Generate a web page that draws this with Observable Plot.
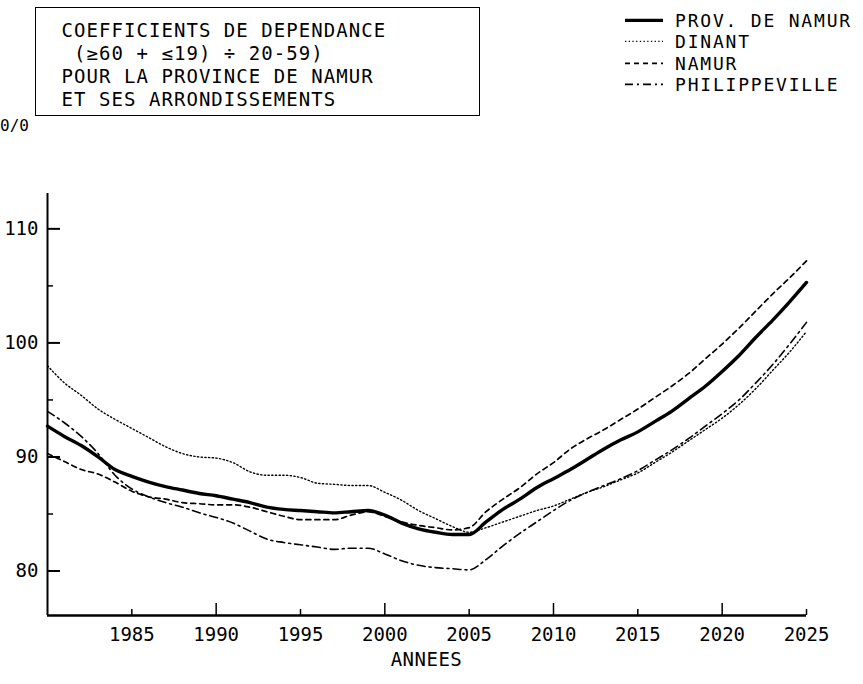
<!DOCTYPE html>
<html>
<head>
<meta charset="utf-8">
<script src="https://cdn.jsdelivr.net/npm/d3@7"></script>
<script src="https://cdn.jsdelivr.net/npm/@observablehq/plot@0.6"></script>
<style>
  body { margin: 0; background: #fff; }
  #wrap { position: relative; width: 863px; height: 684px; font-family: "DejaVu Sans Mono", monospace; color: #000; overflow: hidden; }
  #title { position: absolute; left: 35px; top: 7px; width: 445px; height: 109px; box-sizing: border-box; border: 1.5px solid #000;
           padding: 10.5px 0 0 25.5px; font-size: 19px; letter-spacing: 1.05px; line-height: 23px; white-space: pre; }
  #unit { position: absolute; left: 0px; top: 117px; font-size: 16px; line-height: 18px; }
  #legend { position: absolute; left: 625px; top: 9.6px; font-size: 18px; letter-spacing: 1.8px; line-height: 21.5px; }
  #legend .row { display: flex; align-items: flex-start; height: 21.5px; white-space: pre; }
  #legend svg { width: 38px; height: 21.5px; margin-right: 12px; flex: none; }
  #xlabel { position: absolute; left: 0; width: 853px; text-align: center; top: 648px; font-size: 19px; line-height: 22px; letter-spacing: 0.5px; }
  #chart { position: absolute; left: 0; top: 0; }
</style>
</head>
<body>
<div id="wrap">
  <div id="chart"></div>
  <div id="title"></div>
  <div id="unit">0/0</div>
  <div id="legend"></div>
  <div id="xlabel">ANNEES</div>
</div>
<script>
// ---- data ----
const titleLines = ["COEFFICIENTS DE DEPENDANCE", " (≥60 + ≤19) ÷ 20-59)", "POUR LA PROVINCE DE NAMUR", "ET SES ARRONDISSEMENTS"];
const seriesNames = ["PROV. DE NAMUR", "DINANT", "NAMUR", "PHILIPPEVILLE"];

const years = [1980,1981,1982,1983,1984,1985,1986,1987,1988,1989,1990,1991,1992,1993,1994,1995,1996,1997,1998,1999,
               2000,2001,2002,2003,2004,2005,2006,2007,2008,2009,2010,2011,2012,2013,2014,2015,2016,2017,2018,2019,
               2020,2021,2022,2023,2024,2025];

const provNamur = [92.7,91.8,91.0,90.0,88.9,88.3,87.8,87.4,87.1,86.8,86.6,86.3,86.0,85.6,85.4,85.3,85.2,85.1,85.2,85.3,
                   84.9,84.2,83.7,83.4,83.2,83.2,84.3,85.4,86.3,87.3,88.1,88.9,89.8,90.7,91.5,92.2,93.1,94.0,95.1,96.2,
                   97.5,98.9,100.5,102.0,103.6,105.3];

const dinant = [98.0,96.5,95.4,94.2,93.3,92.5,91.7,90.9,90.3,90.0,89.9,89.5,88.7,88.4,88.4,88.2,87.7,87.6,87.5,87.5,
                86.9,86.2,85.3,84.6,83.9,83.4,83.8,84.3,84.8,85.3,85.7,86.3,86.9,87.4,88.0,88.6,89.5,90.4,91.4,92.4,
                93.4,94.6,96.0,97.6,99.2,101.0];

const namur = [90.3,89.6,88.9,88.5,87.8,87.0,86.5,86.3,86.0,85.9,85.8,85.8,85.6,85.2,84.8,84.5,84.5,84.5,84.9,85.2,
               84.8,84.3,84.0,83.8,83.6,83.8,85.2,86.3,87.3,88.5,89.5,90.7,91.6,92.4,93.3,94.2,95.2,96.2,97.3,98.6,
               99.9,101.3,102.8,104.3,105.7,107.2];

const philippeville = [94.0,93.0,91.8,90.3,88.4,87.2,86.5,86.0,85.6,85.1,84.7,84.2,83.5,82.8,82.5,82.3,82.1,81.9,82.0,82.0,
                       81.5,80.9,80.5,80.3,80.2,80.1,81.0,82.2,83.3,84.3,85.3,86.2,86.9,87.5,88.1,88.8,89.7,90.6,91.6,92.7,
                       93.8,95.0,96.5,98.1,99.9,101.8];

const xTickLabels = [1985,1990,1995,2000,2005,2010,2015,2020,2025];
const xMajorTicks = [1990,2000,2010,2020];
const xMinorTicks = [1985,1995,2005,2015,2025];
const yTickLabels = [80,90,100,110];
const yMajorTicks = [80,90,100,110];
const yMinorTicks = [85,95,105];
const xDomain = [1980, 2025];
const yDomain = [76.1, 113.1];

// ---- styles ----
const styles = [
  {strokeWidth: 3.4, strokeDasharray: null},
  {strokeWidth: 1.4, strokeDasharray: "1.3,2.4"},
  {strokeWidth: 1.7, strokeDasharray: "5,4"},
  {strokeWidth: 1.6, strokeDasharray: "8,4,2,4"}
];
const seriesValues = [provNamur, dinant, namur, philippeville];

const rows = seriesNames.flatMap((name, s) => years.map((yr, i) => ({series: name, year: yr, value: seriesValues[s][i]})));

// title
document.getElementById("title").textContent = titleLines.join("\n");

// legend
const legend = document.getElementById("legend");
seriesNames.forEach((name, s) => {
  const row = document.createElement("div");
  row.className = "row";
  const st = styles[s];
  row.innerHTML = `<svg viewBox="0 0 38 21.5"><line x1="0" x2="38" y1="10.4" y2="10.4" stroke="#000" stroke-width="${st.strokeWidth}" ${st.strokeDasharray ? `stroke-dasharray="${st.strokeDasharray}"` : ""}/></svg><span>${name}</span>`;
  legend.appendChild(row);
});

// chart
const W = 863, H = 684, mL = 47, mR = 57, mT = 193, mB = 69;
const plotW = W - mL - mR, plotH = H - mT - mB;
const font = "DejaVu Sans Mono";

const chart = Plot.plot({
  width: W, height: H,
  marginLeft: mL, marginRight: mR, marginTop: mT, marginBottom: mB,
  style: {fontFamily: font, background: "#fff", color: "#000"},
  x: {domain: xDomain, label: null},
  y: {domain: yDomain, label: null},
  marks: [
    ...seriesNames.map((name, s) => Plot.lineY(rows.filter(d => d.series === name), {
      x: "year", y: "value", stroke: "#000", curve: "monotone-x",
      strokeWidth: styles[s].strokeWidth, strokeDasharray: styles[s].strokeDasharray
    })),
    Plot.ruleX([xDomain[0]], {stroke: "#000", strokeWidth: 2}),
    Plot.ruleY([yDomain[0]], {stroke: "#000", strokeWidth: 2.4}),
    Plot.ruleX(xMajorTicks, {x: d => d, insetTop: plotH - 12, stroke: "#000", strokeWidth: 1.5}),
    Plot.ruleX(xMinorTicks, {x: d => d, insetTop: plotH - 6, stroke: "#000", strokeWidth: 1.5}),
    Plot.ruleY(yMajorTicks, {y: d => d, insetRight: plotW - 13, stroke: "#000", strokeWidth: 2}),
    Plot.ruleY(yMinorTicks, {y: d => d, insetRight: plotW - 6, stroke: "#000", strokeWidth: 1.5}),
    Plot.axisX(xTickLabels, {tickSize: 0, tickPadding: 12, tickFormat: d => String(d), fontSize: 19, label: null, fill: "#000"}),
    Plot.axisY(yTickLabels, {tickSize: 0, tickPadding: 9, tickFormat: d => String(d), fontSize: 19, label: null, fill: "#000"})
  ]
});
document.getElementById("chart").appendChild(chart);
</script>
</body>
</html>
